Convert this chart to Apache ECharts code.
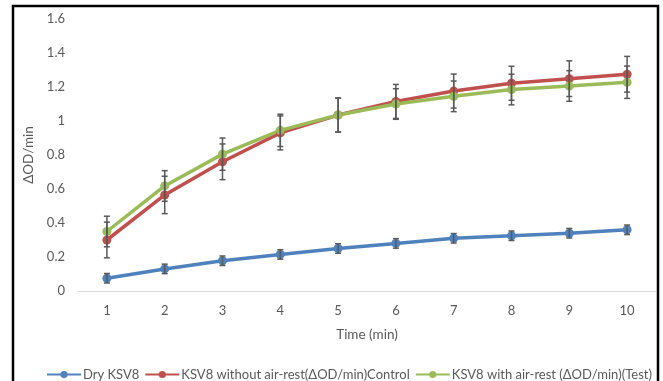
<!DOCTYPE html>
<html>
<head>
<meta charset="utf-8">
<script src="https://cdn.jsdelivr.net/npm/echarts@6/dist/echarts.min.js"></script>
<style>
  html, body { margin: 0; padding: 0; background: #fff; }
  #chart { width: 663px; height: 381px; }
</style>
</head>
<body>
<div id="chart"></div>
<script>
// Time points (min)
const minutes = ['1', '2', '3', '4', '5', '6', '7', '8', '9', '10'];

// Mean ΔOD/min per time point
const dryKSV8 = [0.075, 0.13, 0.178, 0.215, 0.25, 0.28, 0.31, 0.325, 0.34, 0.36];
const controlNoRest = [0.30, 0.565, 0.76, 0.93, 1.035, 1.115, 1.176, 1.222, 1.249, 1.275];
const testAirRest = [0.35, 0.618, 0.805, 0.945, 1.035, 1.10, 1.145, 1.185, 1.206, 1.228];

// Error bar half-widths (±)
const dryErr = [0.028, 0.028, 0.028, 0.028, 0.028, 0.028, 0.028, 0.028, 0.028, 0.028];
const controlErr = [0.105, 0.11, 0.105, 0.1, 0.1, 0.1, 0.1, 0.1, 0.105, 0.105];
const testErr = [0.09, 0.09, 0.095, 0.095, 0.1, 0.09, 0.09, 0.09, 0.09, 0.095];

// Y axis ticks
const yMin = 0, yMax = 1.6, yStep = 0.2;

const seriesNames = [
  'Dry KSV8',
  'KSV8 without air-rest(ΔOD/min)Control',
  'KSV8 with air-rest (ΔOD/min)(Test)'
];
const colors = ['#4F81BD', '#C0504D', '#9BBB59'];
const FONT = 'Lato, "Open Sans", sans-serif';

function lineSeries(name, data, color) {
  return {
    name: name,
    type: 'line',
    data: data,
    symbol: 'circle',
    symbolSize: 9,
    itemStyle: { color: color },
    lineStyle: { color: color, width: 3.5 },
    z: 2
  };
}

// Error bars drawn as vertical whiskers with caps
function errorSeries(means, errs) {
  const data = means.map((m, i) => [i, m - errs[i], m + errs[i]]);
  return {
    type: 'custom',
    silent: true,
    z: 5,
    data: data,
    encode: { x: 0, y: [1, 2] },
    renderItem: function (params, api) {
      const x = api.value(0);
      const lo = api.coord([x, api.value(1)]);
      const hi = api.coord([x, api.value(2)]);
      const half = 3;
      const style = { stroke: '#595959', lineWidth: 1.5 };
      return {
        type: 'group',
        children: [
          { type: 'line', shape: { x1: lo[0], y1: lo[1], x2: hi[0], y2: hi[1] }, style: style },
          { type: 'line', shape: { x1: lo[0] - half, y1: lo[1], x2: lo[0] + half, y2: lo[1] }, style: style },
          { type: 'line', shape: { x1: hi[0] - half, y1: hi[1], x2: hi[0] + half, y2: hi[1] }, style: style }
        ]
      };
    }
  };
}

const chart = echarts.init(document.getElementById('chart'), null, { renderer: 'canvas' });

chart.setOption({
  animation: false,
  backgroundColor: '#ffffff',
  graphic: [{
    type: 'rect',
    shape: { x: 13, y: 6, width: 645, height: 420 },
    style: { fill: 'none', stroke: '#000000', lineWidth: 2.5 },
    z: 100
  }],
  grid: { left: 78, right: 7, top: 19, bottom: 90 },
  legend: {
    data: seriesNames,
    top: 368,
    left: 46,
    padding: 0,
    itemWidth: 34,
    itemHeight: 9,
    itemGap: 5,
    textStyle: { fontFamily: FONT, fontSize: 13, color: '#595959', padding: [0, 0, 0, -3] }
  },
  xAxis: {
    type: 'category',
    data: minutes,
    boundaryGap: true,
    name: 'Time (min)',
    nameLocation: 'middle',
    nameGap: 37,
    nameTextStyle: { fontFamily: FONT, fontSize: 13.5, color: '#595959' },
    axisLine: { lineStyle: { color: '#D9D9D9', width: 1 } },
    axisTick: { show: false },
    axisLabel: { fontFamily: FONT, fontSize: 13, color: '#595959', margin: 13 }
  },
  yAxis: {
    type: 'value',
    min: yMin,
    max: yMax,
    interval: yStep,
    name: 'ΔOD/min',
    nameLocation: 'middle',
    nameGap: 33,
    nameTextStyle: { fontFamily: FONT, fontSize: 13.5, color: '#595959' },
    axisLine: { show: false },
    axisTick: { show: false },
    splitLine: { show: false },
    axisLabel: {
      fontFamily: FONT, fontSize: 13, color: '#595959', margin: 13,
      formatter: v => String(Math.round(v * 10) / 10)
    }
  },
  series: [
    lineSeries(seriesNames[0], dryKSV8, colors[0]),
    lineSeries(seriesNames[1], controlNoRest, colors[1]),
    lineSeries(seriesNames[2], testAirRest, colors[2]),
    errorSeries(dryKSV8, dryErr),
    errorSeries(controlNoRest, controlErr),
    errorSeries(testAirRest, testErr)
  ]
});
</script>
</body>
</html>
